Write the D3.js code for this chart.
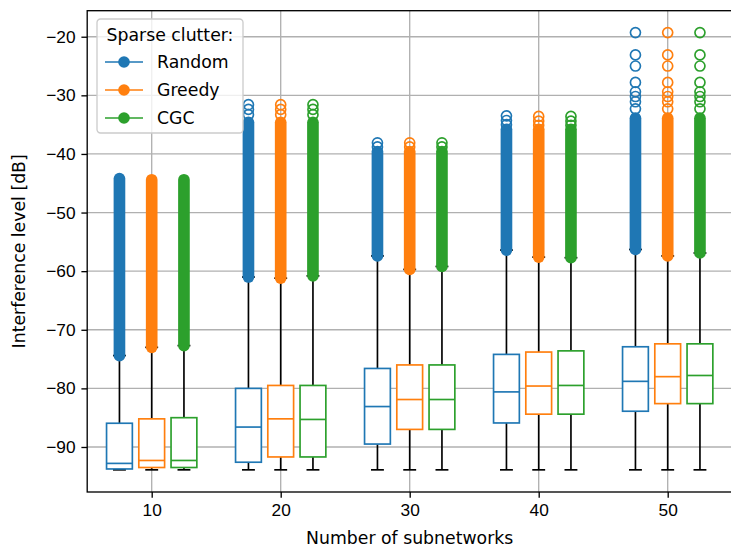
<!DOCTYPE html>
<html lang="en">
<head>
<meta charset="utf-8">
<title>Interference level</title>
<script src="https://cdn.jsdelivr.net/npm/d3@7"></script>
<style>
  body { margin: 0; background: white; }
  svg { font-family: "DejaVu Sans", sans-serif; }
  .tick text { font-size: 17.3px; fill: #000; }
</style>
</head>
<body>
<svg id="chart" width="731" height="548"></svg>
<script>
// values, one row per series (Random, Greedy, CGC)
var categories = [10, 20, 30, 40, 50];
var seriesNames = ["Random", "Greedy", "CGC"];
var seriesColors = ["#1f77b4", "#ff7f0e", "#2ca02c"];
var yTicks = [-90, -80, -70, -60, -50, -40, -30, -20];

var whiskerLow = [
  [-93.9, -93.9, -93.9, -93.9, -93.9],
  [-93.9, -93.9, -93.9, -93.9, -93.9],
  [-93.9, -93.9, -93.9, -93.9, -93.9]
];
var q1 = [
  [-93.75, -92.6, -89.5, -85.9, -83.9],
  [-93.5, -91.7, -87.0, -84.4, -82.6],
  [-93.5, -91.7, -87.0, -84.4, -82.6]
];
var median = [
  [-92.8, -86.6, -83.1, -80.6, -78.8],
  [-92.3, -85.2, -81.9, -79.6, -78.0],
  [-92.3, -85.3, -81.9, -79.5, -77.8]
];
var q3 = [
  [-85.95, -80.0, -76.6, -74.2, -72.9],
  [-85.2, -79.5, -76.0, -73.8, -72.4],
  [-85.0, -79.5, -76.0, -73.6, -72.4]
];
// lowest outlier (= top of the upper whisker) and top of the dense outlier column
var flierLow = [
  [-74.4, -61.0, -57.4, -56.4, -56.3],
  [-73.0, -61.2, -59.7, -57.6, -57.4],
  [-72.7, -60.8, -59.2, -57.7, -56.9]
];
var flierDenseTop = [
  [-44.2, -34.6, -39.6, -35.8, -33.9],
  [-44.4, -34.6, -39.6, -35.8, -33.9],
  [-44.4, -34.6, -39.6, -35.8, -33.9]
];
var flierSparse = [
  [[], [-31.6, -32.4, -33.3], [-38.1, -38.8], [-33.5, -34.3, -35.0], [-19.3, -23.1, -25.0, -27.8, -29.4, -30.2, -31.1, -32.3]],
  [[], [-31.6, -32.4, -33.3], [-38.1, -38.8], [-33.6, -34.4, -35.1], [-19.3, -23.1, -25.0, -27.8, -29.4, -30.2, -31.1, -32.3]],
  [[], [-31.6, -32.4, -33.3], [-38.1, -38.8], [-33.6, -34.4, -35.1], [-19.3, -23.1, -25.0, -27.8, -29.4, -30.2, -31.1, -32.3]]
];
var groupOffsets = [-2.5, 0, 2.5];
var boxWidth = 2;

var svg = d3.select("#chart");
var margin = {top: 10.7, left: 87.2, bottom: 492};
var right = 732.2;
var fontSize = 17.3;

var x = d3.scaleLinear().domain([5, 55]).range([margin.left, right]);
var y = d3.scaleLinear().domain([-97.68, -15.56]).range([margin.bottom, margin.top]);

var lw = 1.67;   // 1pt at this size
var minus = function(d) { return String(d).replace("-", "\u2212"); };

// grid
var grid = svg.append("g");
grid.selectAll(".gx").data(categories).enter().append("line")
    .attr("x1", function(d) { return x(d); }).attr("x2", function(d) { return x(d); })
    .attr("y1", margin.top).attr("y2", margin.bottom)
    .attr("stroke", "#b0b0b0").attr("stroke-width", 1.33);
grid.selectAll(".gy").data(yTicks).enter().append("line")
    .attr("x1", margin.left).attr("x2", right)
    .attr("y1", function(d) { return y(d); }).attr("y2", function(d) { return y(d); })
    .attr("stroke", "#b0b0b0").attr("stroke-width", 1.33);

// boxes
var plot = svg.append("g");
seriesNames.forEach(function(name, s) {
  var color = seriesColors[s];
  var g = plot.append("g").attr("class", "series-" + s);
  categories.forEach(function(c, i) {
    var cx = x(c + groupOffsets[s]);
    var half = (x(boxWidth) - x(0)) / 2;
    // whiskers
    g.append("line").attr("x1", cx).attr("x2", cx)
        .attr("y1", y(q1[s][i])).attr("y2", y(whiskerLow[s][i]))
        .attr("stroke", "#000").attr("stroke-width", lw);
    g.append("line").attr("x1", cx).attr("x2", cx)
        .attr("y1", y(q3[s][i])).attr("y2", y(flierLow[s][i]))
        .attr("stroke", "#000").attr("stroke-width", lw);
    // caps
    g.append("line").attr("x1", cx - half / 2).attr("x2", cx + half / 2)
        .attr("y1", y(whiskerLow[s][i])).attr("y2", y(whiskerLow[s][i]))
        .attr("stroke", "#000").attr("stroke-width", lw);
    g.append("line").attr("x1", cx - half / 2).attr("x2", cx + half / 2)
        .attr("y1", y(flierLow[s][i])).attr("y2", y(flierLow[s][i]))
        .attr("stroke", "#000").attr("stroke-width", lw);
    // box
    g.append("rect")
        .attr("x", cx - half).attr("width", 2 * half)
        .attr("y", y(q3[s][i])).attr("height", y(q1[s][i]) - y(q3[s][i]))
        .attr("fill", "white").attr("stroke", color).attr("stroke-width", lw);
    g.append("line").attr("x1", cx - half).attr("x2", cx + half)
        .attr("y1", y(median[s][i])).attr("y2", y(median[s][i]))
        .attr("stroke", color).attr("stroke-width", lw);
    // dense outliers: overlapping hollow circles look like a solid column
    g.append("line").attr("x1", cx).attr("x2", cx)
        .attr("y1", y(flierLow[s][i])).attr("y2", y(flierDenseTop[s][i]))
        .attr("stroke", color).attr("stroke-width", 11.67)
        .attr("stroke-linecap", "round");
    g.selectAll(".fl" + i).data(flierSparse[s][i]).enter().append("circle")
        .attr("cx", cx).attr("cy", function(d) { return y(d); })
        .attr("r", 5).attr("fill", "none")
        .attr("stroke", color).attr("stroke-width", lw);
  });
});

// axes
var xAxis = svg.append("g")
    .attr("transform", "translate(0," + margin.bottom + ")")
    .call(d3.axisBottom(x).tickValues(categories).tickSize(5.8).tickPadding(5.8));
var yAxis = svg.append("g")
    .attr("transform", "translate(" + margin.left + ",0)")
    .call(d3.axisLeft(y).tickValues(yTicks).tickSize(5.8).tickPadding(5.8).tickFormat(minus));
[xAxis, yAxis].forEach(function(a) {
  a.select(".domain").remove();
  a.selectAll(".tick line").attr("stroke", "#000").attr("stroke-width", 1.33);
});
svg.append("rect")
    .attr("x", margin.left).attr("y", margin.top)
    .attr("width", right - margin.left).attr("height", margin.bottom - margin.top)
    .attr("fill", "none").attr("stroke", "#000").attr("stroke-width", 1.33);

svg.append("text")
    .attr("x", (margin.left + right) / 2).attr("y", 544)
    .attr("text-anchor", "middle").attr("font-size", fontSize)
    .text("Number of subnetworks");
svg.append("text")
    .attr("transform", "translate(25," + ((margin.top + margin.bottom) / 2) + ") rotate(-90)")
    .attr("text-anchor", "middle").attr("font-size", fontSize)
    .text("Interference level [dB]");

// legend
var legend = svg.append("g").attr("transform", "translate(97,19)");
legend.append("rect")
    .attr("width", 146).attr("height", 114).attr("rx", 3.5)
    .attr("fill", "white").attr("fill-opacity", 0.8)
    .attr("stroke", "#cccccc").attr("stroke-width", 1.33);
legend.append("text")
    .attr("x", 73).attr("y", 22)
    .attr("text-anchor", "middle").attr("font-size", fontSize)
    .text("Sparse clutter:");
var items = legend.selectAll(".item").data(seriesNames).enter().append("g")
    .attr("transform", function(d, i) { return "translate(0," + (43 + i * 28) + ")"; });
items.append("line").attr("x1", 8).attr("x2", 46)
    .attr("stroke", function(d, i) { return seriesColors[i]; }).attr("stroke-width", lw);
items.append("circle").attr("cx", 27).attr("r", 5.8)
    .attr("fill", function(d, i) { return seriesColors[i]; });
items.append("text").attr("x", 60).attr("dy", "0.35em")
    .attr("font-size", fontSize)
    .text(function(d) { return d; });
</script>
</body>
</html>
